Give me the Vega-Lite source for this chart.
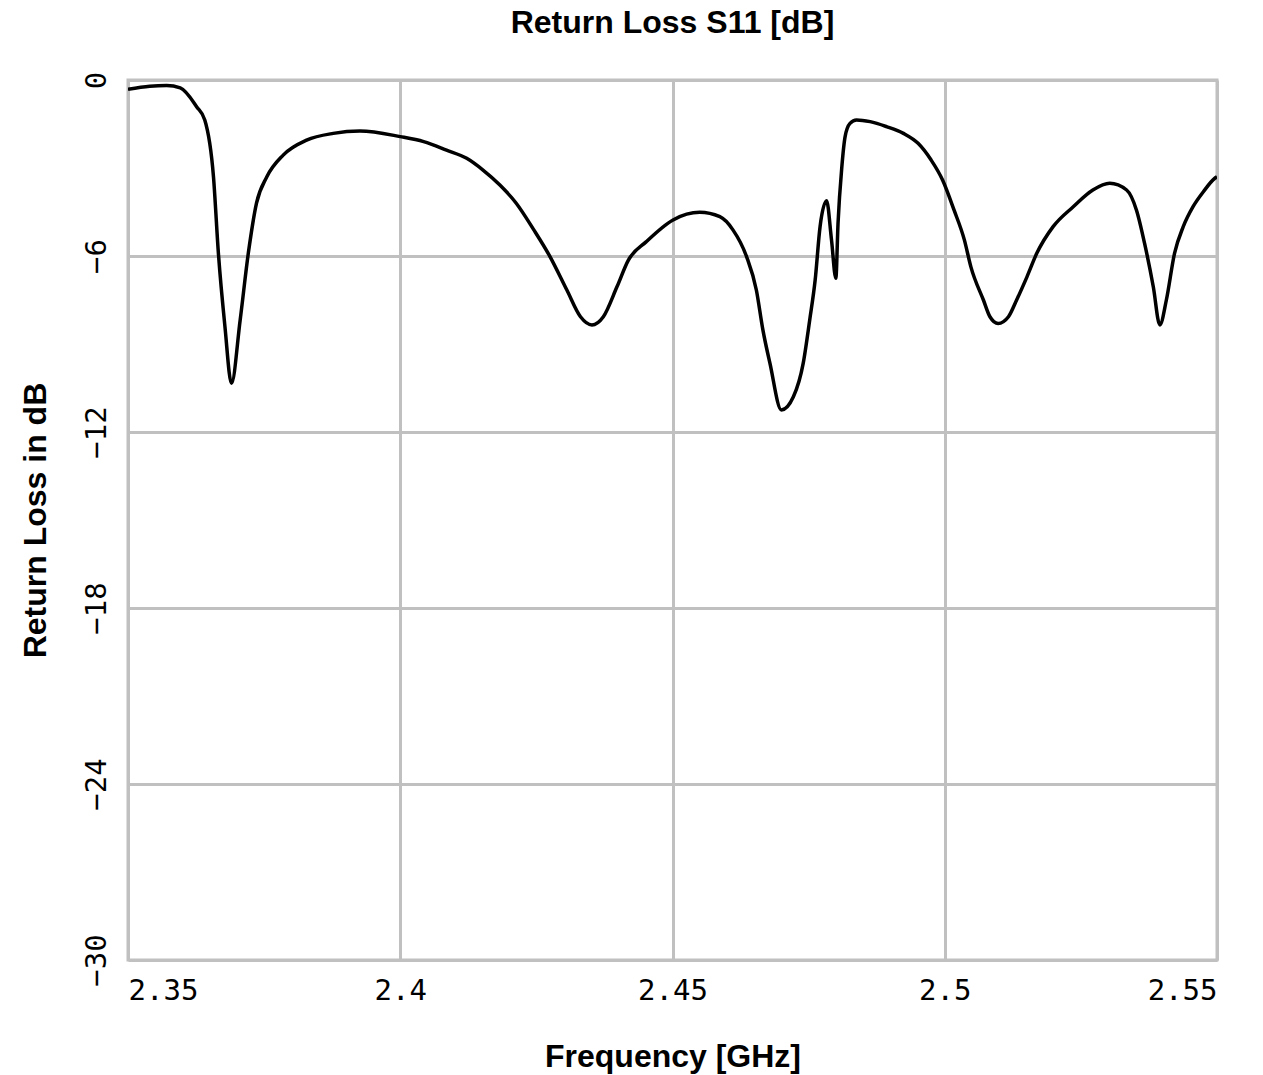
{
  "$schema": "https://vega.github.io/schema/vega-lite/v6.json",
  "width": 1089,
  "height": 880,
  "autosize": {"type": "none"},
  "padding": {"left": 128, "top": 80, "right": 46, "bottom": 115},
  "background": "white",
  "title": {
    "text": "Return Loss S11 [dB]",
    "font": "Liberation Sans",
    "fontSize": 32,
    "fontWeight": "bold",
    "color": "black",
    "anchor": "middle",
    "offset": 31
  },
  "data": {
    "values": [
      {"f": 2.3500, "s11": -0.32},
      {"f": 2.3540, "s11": -0.21},
      {"f": 2.3571, "s11": -0.19},
      {"f": 2.3596, "s11": -0.27},
      {"f": 2.3626, "s11": -0.91},
      {"f": 2.3641, "s11": -1.36},
      {"f": 2.3657, "s11": -3.3},
      {"f": 2.3666, "s11": -5.9},
      {"f": 2.3678, "s11": -8.4},
      {"f": 2.3690, "s11": -10.34},
      {"f": 2.3706, "s11": -8.18},
      {"f": 2.3721, "s11": -5.9},
      {"f": 2.3736, "s11": -4.2},
      {"f": 2.3755, "s11": -3.3},
      {"f": 2.3785, "s11": -2.56},
      {"f": 2.3828, "s11": -2.05},
      {"f": 2.3877, "s11": -1.82},
      {"f": 2.3926, "s11": -1.74},
      {"f": 2.4000, "s11": -1.93},
      {"f": 2.4043, "s11": -2.10},
      {"f": 2.4085, "s11": -2.39},
      {"f": 2.4122, "s11": -2.67},
      {"f": 2.4152, "s11": -3.07},
      {"f": 2.4183, "s11": -3.58},
      {"f": 2.4213, "s11": -4.2},
      {"f": 2.4245, "s11": -5.1},
      {"f": 2.4275, "s11": -6.02},
      {"f": 2.4306, "s11": -7.16},
      {"f": 2.4331, "s11": -8.07},
      {"f": 2.4352, "s11": -8.35},
      {"f": 2.4373, "s11": -8.07},
      {"f": 2.4398, "s11": -7.05},
      {"f": 2.4419, "s11": -6.14},
      {"f": 2.4452, "s11": -5.51},
      {"f": 2.4501, "s11": -4.77},
      {"f": 2.4550, "s11": -4.51},
      {"f": 2.4587, "s11": -4.66},
      {"f": 2.4611, "s11": -5.11},
      {"f": 2.4636, "s11": -6.02},
      {"f": 2.4654, "s11": -7.16},
      {"f": 2.4666, "s11": -8.52},
      {"f": 2.4679, "s11": -9.66},
      {"f": 2.4700, "s11": -11.25},
      {"f": 2.4722, "s11": -10.8},
      {"f": 2.4740, "s11": -9.66},
      {"f": 2.4752, "s11": -8.18},
      {"f": 2.4762, "s11": -6.82},
      {"f": 2.4771, "s11": -5.0},
      {"f": 2.4783, "s11": -4.12},
      {"f": 2.4792, "s11": -5.45},
      {"f": 2.4800, "s11": -6.76},
      {"f": 2.4804, "s11": -4.89},
      {"f": 2.4811, "s11": -2.96},
      {"f": 2.4817, "s11": -1.93},
      {"f": 2.4826, "s11": -1.48},
      {"f": 2.4838, "s11": -1.36},
      {"f": 2.4863, "s11": -1.42},
      {"f": 2.4893, "s11": -1.59},
      {"f": 2.4924, "s11": -1.82},
      {"f": 2.4951, "s11": -2.16},
      {"f": 2.4975, "s11": -2.73},
      {"f": 2.4996, "s11": -3.41},
      {"f": 2.5017, "s11": -4.43},
      {"f": 2.5036, "s11": -5.45},
      {"f": 2.5048, "s11": -6.37},
      {"f": 2.5071, "s11": -7.5},
      {"f": 2.5083, "s11": -8.07},
      {"f": 2.5098, "s11": -8.3},
      {"f": 2.5117, "s11": -8.07},
      {"f": 2.5132, "s11": -7.5},
      {"f": 2.5151, "s11": -6.71},
      {"f": 2.5169, "s11": -5.91},
      {"f": 2.5199, "s11": -5.0},
      {"f": 2.5236, "s11": -4.32},
      {"f": 2.5272, "s11": -3.75},
      {"f": 2.5303, "s11": -3.52},
      {"f": 2.5334, "s11": -3.75},
      {"f": 2.5352, "s11": -4.43},
      {"f": 2.5367, "s11": -5.57},
      {"f": 2.5383, "s11": -7.05},
      {"f": 2.5395, "s11": -8.35},
      {"f": 2.5407, "s11": -7.5},
      {"f": 2.5422, "s11": -5.91},
      {"f": 2.5438, "s11": -5.0},
      {"f": 2.5456, "s11": -4.32},
      {"f": 2.5475, "s11": -3.81},
      {"f": 2.5496, "s11": -3.35},
      {"f": 2.5500, "s11": -3.3}
    ]
  },
  "mark": {"type": "line", "color": "black", "strokeWidth": 3.5, "interpolate": "monotone", "clip": true},
  "encoding": {
    "x": {
      "field": "f",
      "type": "quantitative",
      "scale": {"domain": [2.35, 2.55], "nice": false, "zero": false},
      "axis": {
        "values": [2.35, 2.4, 2.45, 2.5, 2.55],
        "format": "~g",
        "title": "Frequency [GHz]",
        "titleFont": "Liberation Sans",
        "titleFontSize": 32,
        "titleFontWeight": "bold",
        "titleColor": "black",
        "titlePadding": 36,
        "labelFont": "DejaVu Sans Mono",
        "labelFontSize": 29,
        "labelColor": "black",
        "labelPadding": 16,
        "ticks": false,
        "domain": false,
        "grid": true,
        "gridColor": "#c0c0c0",
        "gridWidth": 3,
        "gridOpacity": 1
      }
    },
    "y": {
      "field": "s11",
      "type": "quantitative",
      "scale": {"domain": [-30, 0], "nice": false},
      "axis": {
        "values": [-30, -24, -18, -12, -6, 0],
        "title": "Return Loss in dB",
        "titleFont": "Liberation Sans",
        "titleFontSize": 32,
        "titleFontWeight": "bold",
        "titleColor": "black",
        "titlePadding": 30,
        "labelFont": "DejaVu Sans Mono",
        "labelFontSize": 29,
        "labelColor": "black",
        "labelAngle": 270,
        "labelAlign": "center",
        "labelBaseline": "bottom",
        "labelPadding": 17,
        "ticks": false,
        "domain": false,
        "grid": true,
        "gridColor": "#c0c0c0",
        "gridWidth": 3,
        "gridOpacity": 1
      }
    }
  },
  "config": {
    "view": {"stroke": "#c0c0c0", "strokeWidth": 3}
  }
}
